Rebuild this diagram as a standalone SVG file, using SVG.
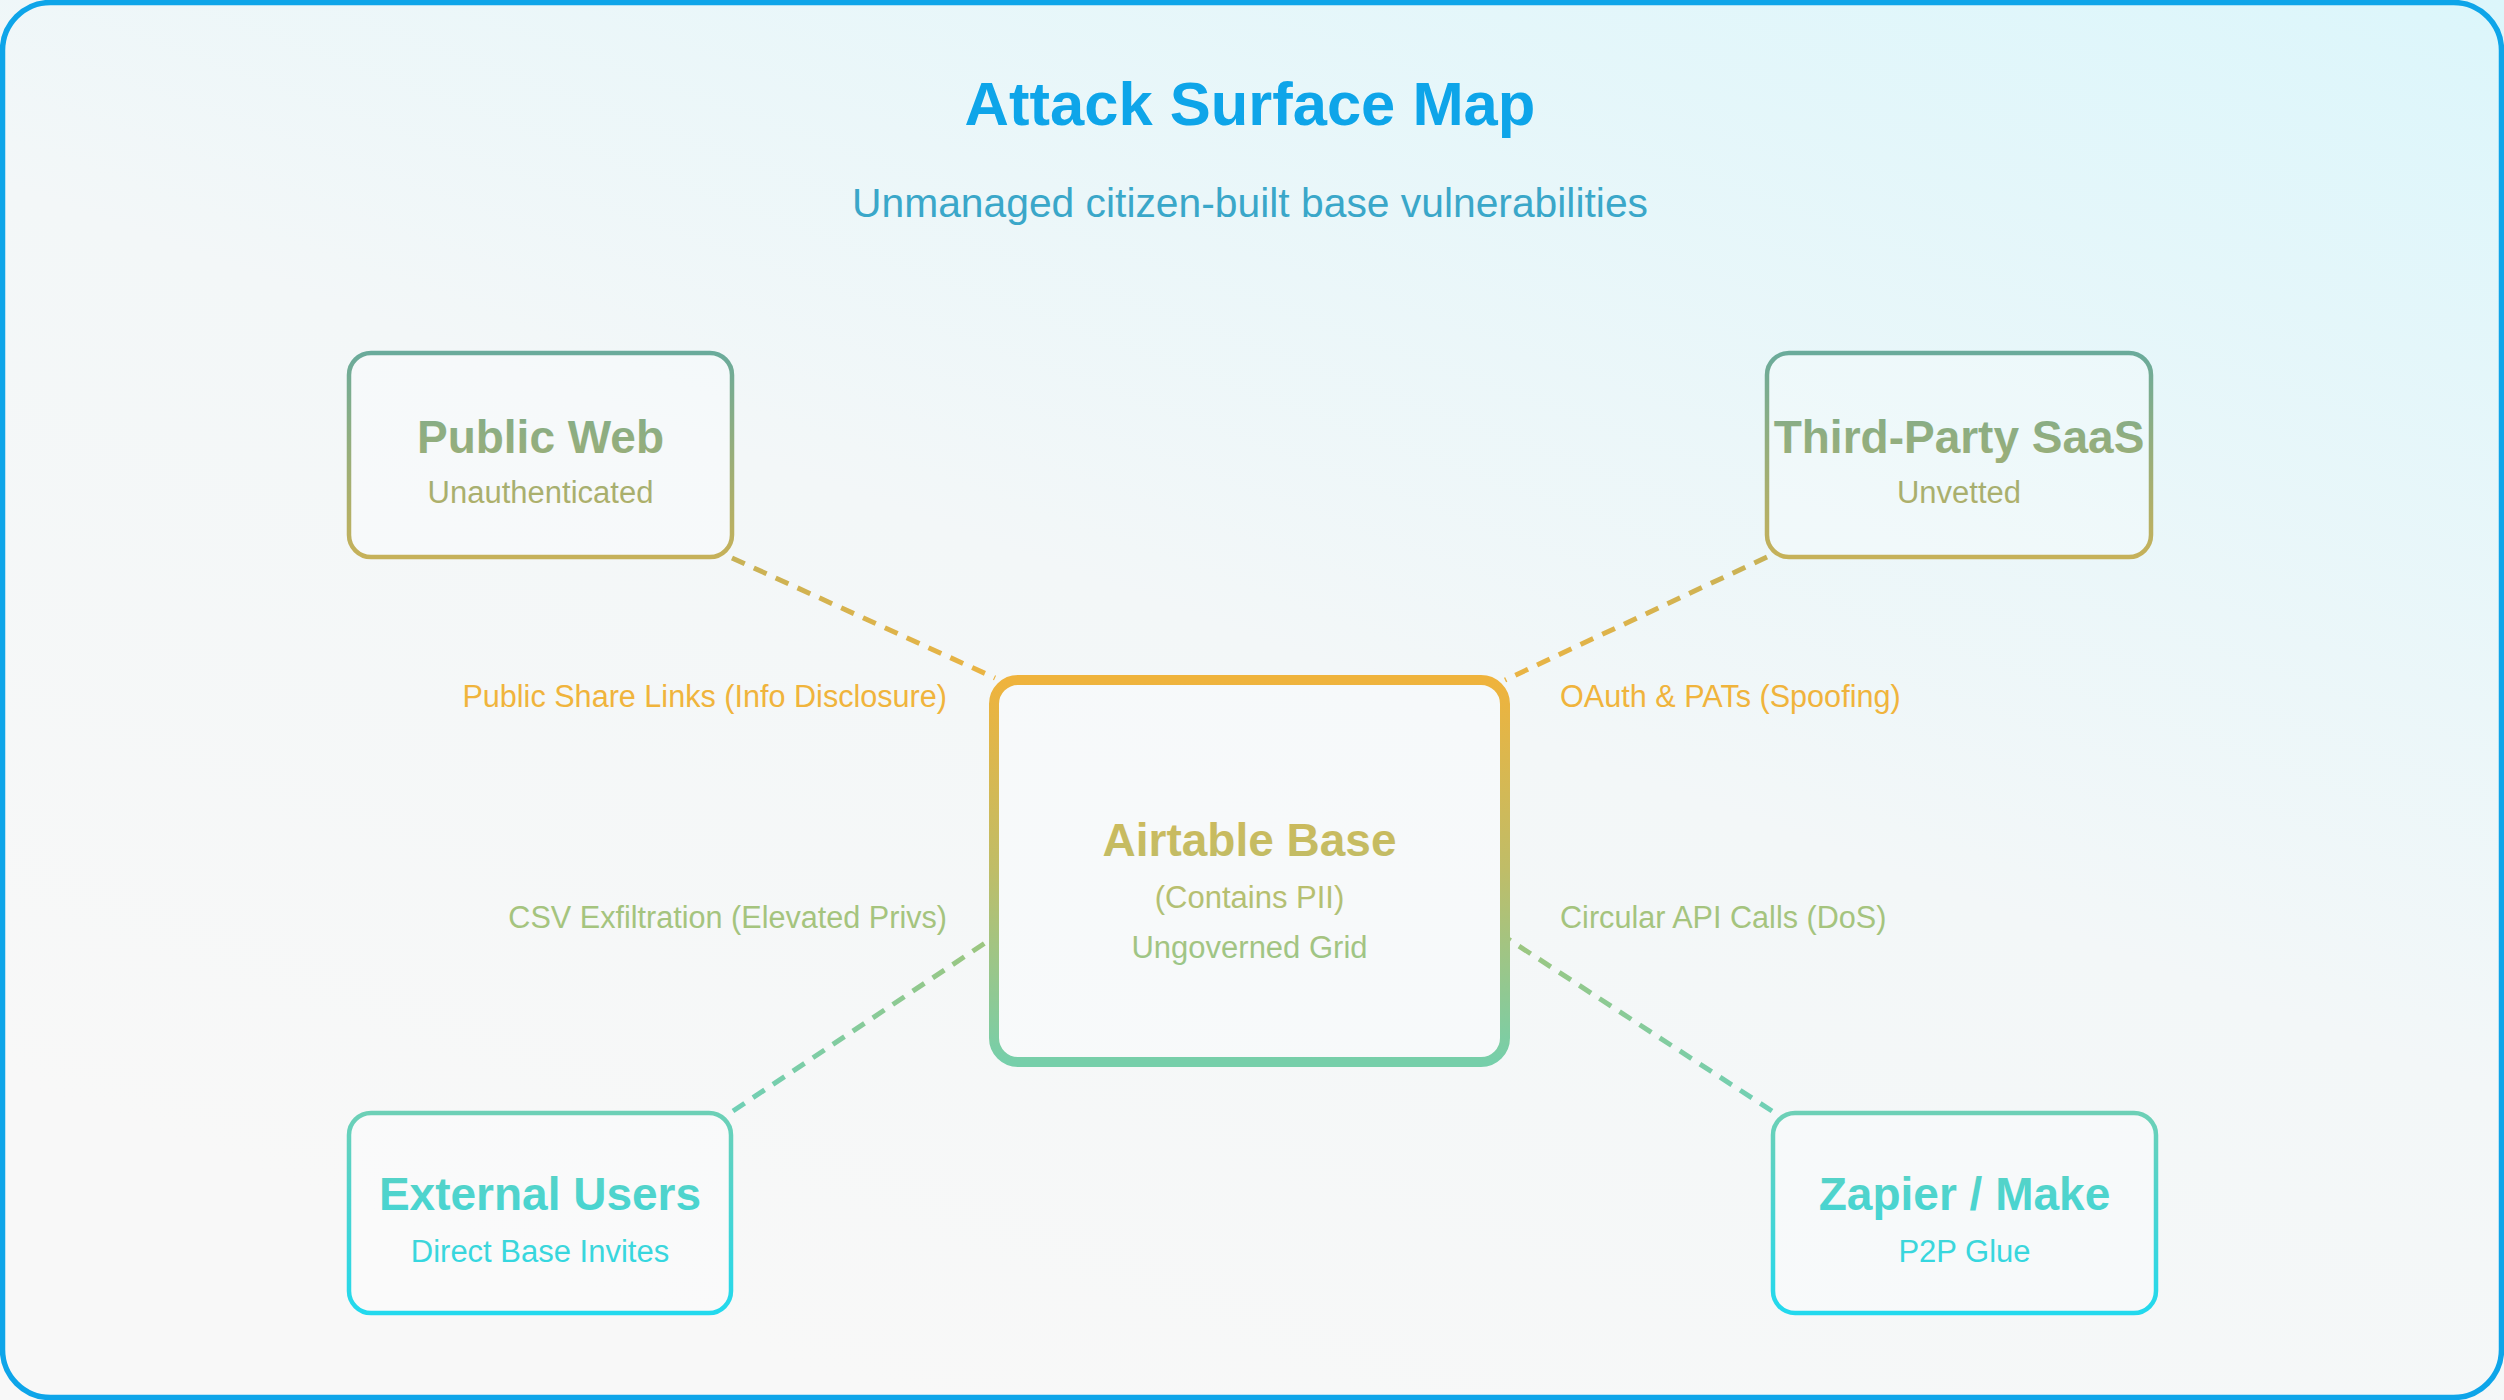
<svg xmlns="http://www.w3.org/2000/svg" width="2504" height="1400" viewBox="0 0 2504 1400">
<defs>
<linearGradient id="bg" x1="1" y1="0" x2="0.35" y2="1">
<stop offset="0" stop-color="#dcf6fb"/>
<stop offset="0.55" stop-color="#f3f7f8"/>
<stop offset="1" stop-color="#f8f8f8"/>
</linearGradient>
<linearGradient id="gTop" gradientUnits="userSpaceOnUse" x1="0" y1="353" x2="0" y2="557">
<stop offset="0" stop-color="#6aab9b"/>
<stop offset="1" stop-color="#c6b159"/>
</linearGradient>
<linearGradient id="gBot" gradientUnits="userSpaceOnUse" x1="0" y1="1113" x2="0" y2="1313">
<stop offset="0" stop-color="#6dd0b6"/>
<stop offset="1" stop-color="#22d9ee"/>
</linearGradient>
<linearGradient id="gCen" gradientUnits="userSpaceOnUse" x1="0" y1="680" x2="0" y2="1062">
<stop offset="0" stop-color="#efb33c"/>
<stop offset="0.5" stop-color="#bfbd68"/>
<stop offset="1" stop-color="#76cfaa"/>
</linearGradient>
<linearGradient id="lTL" gradientUnits="userSpaceOnUse" x1="732" y1="558" x2="995" y2="678">
<stop offset="0" stop-color="#c8b257"/>
<stop offset="1" stop-color="#ebb443"/>
</linearGradient>
<linearGradient id="lTR" gradientUnits="userSpaceOnUse" x1="1767" y1="557" x2="1505" y2="680">
<stop offset="0" stop-color="#c8b257"/>
<stop offset="1" stop-color="#ebb443"/>
</linearGradient>
<linearGradient id="lBL" gradientUnits="userSpaceOnUse" x1="733" y1="1111" x2="994" y2="937">
<stop offset="0" stop-color="#6fd0b6"/>
<stop offset="1" stop-color="#9ec67e"/>
</linearGradient>
<linearGradient id="lBR" gradientUnits="userSpaceOnUse" x1="1772" y1="1111" x2="1505" y2="937">
<stop offset="0" stop-color="#6fd0b6"/>
<stop offset="1" stop-color="#9ec67e"/>
</linearGradient>
</defs>
<style>
text { font-family: "Liberation Sans", Arial, sans-serif; text-anchor: middle; }
.node { fill: #ffffff; fill-opacity: 0.25; stroke-width: 4.5; }
.ntitle { font-size: 46px; font-weight: bold; }
.nsub { font-size: 31px; }
.lbl { font-size: 30.6px; }
.conn { fill: none; stroke-width: 5; stroke-dasharray: 14 10; }
</style>
<rect x="0" y="0" width="2504" height="1400" fill="url(#bg)"/>
<rect x="2.5" y="2.5" width="2499" height="1395" rx="48" fill="none" stroke="#0ea5e9" stroke-width="5.5"/>
<text x="1250" y="125" font-size="61.5" font-weight="bold" fill="#0ea5e9">Attack Surface Map</text>
<text x="1250" y="217" font-size="40.8" fill="#3aa7c9">Unmanaged citizen-built base vulnerabilities</text>
<g id="connectors">
<line class="conn" x1="732" y1="558" x2="995" y2="678" stroke="url(#lTL)"/>
<line class="conn" x1="1767" y1="557" x2="1505" y2="680" stroke="url(#lTR)"/>
<line class="conn" x1="733" y1="1111" x2="994" y2="937" stroke="url(#lBL)"/>
<line class="conn" x1="1772" y1="1111" x2="1505" y2="937" stroke="url(#lBR)"/>
<text class="lbl" x="947" y="707" fill="#f0b43c" style="text-anchor:end">Public Share Links (Info Disclosure)</text>
<text class="lbl" x="947" y="928" fill="#a5c47e" style="text-anchor:end">CSV Exfiltration (Elevated Privs)</text>
<text class="lbl" x="1560" y="707" fill="#f0b43c" style="text-anchor:start">OAuth &amp; PATs (Spoofing)</text>
<text class="lbl" x="1560" y="928" fill="#a5c47e" style="text-anchor:start">Circular API Calls (DoS)</text>
</g>
<g id="public-web">
<rect class="node" x="349" y="353" width="383" height="204" rx="22" stroke="url(#gTop)"/>
<text class="ntitle" x="540.5" y="453" fill="url(#gTop)">Public Web</text>
<text class="nsub" x="540.5" y="503" fill="url(#gTop)">Unauthenticated</text>
</g>
<g id="third-party-saas">
<rect class="node" x="1767" y="353" width="384" height="204" rx="22" stroke="url(#gTop)"/>
<text class="ntitle" x="1959" y="453" fill="url(#gTop)">Third-Party SaaS</text>
<text class="nsub" x="1959" y="503" fill="url(#gTop)">Unvetted</text>
</g>
<g id="airtable-base">
<rect class="node" x="994" y="680" width="511" height="382" rx="24" stroke="url(#gCen)" style="stroke-width:10"/>
<text class="ntitle" x="1249.5" y="856" fill="url(#gCen)">Airtable Base</text>
<text class="nsub" x="1249.5" y="908" fill="url(#gCen)">(Contains PII)</text>
<text class="nsub" x="1249.5" y="958" fill="url(#gCen)">Ungoverned Grid</text>
</g>
<g id="external-users">
<rect class="node" x="349" y="1113" width="382" height="200" rx="22" stroke="url(#gBot)"/>
<text class="ntitle" x="540" y="1210" fill="url(#gBot)">External Users</text>
<text class="nsub" x="540" y="1262" fill="url(#gBot)">Direct Base Invites</text>
</g>
<g id="zapier-make">
<rect class="node" x="1773" y="1113" width="383" height="200" rx="22" stroke="url(#gBot)"/>
<text class="ntitle" x="1964.5" y="1210" fill="url(#gBot)">Zapier / Make</text>
<text class="nsub" x="1964.5" y="1262" fill="url(#gBot)">P2P Glue</text>
</g>
</svg>
